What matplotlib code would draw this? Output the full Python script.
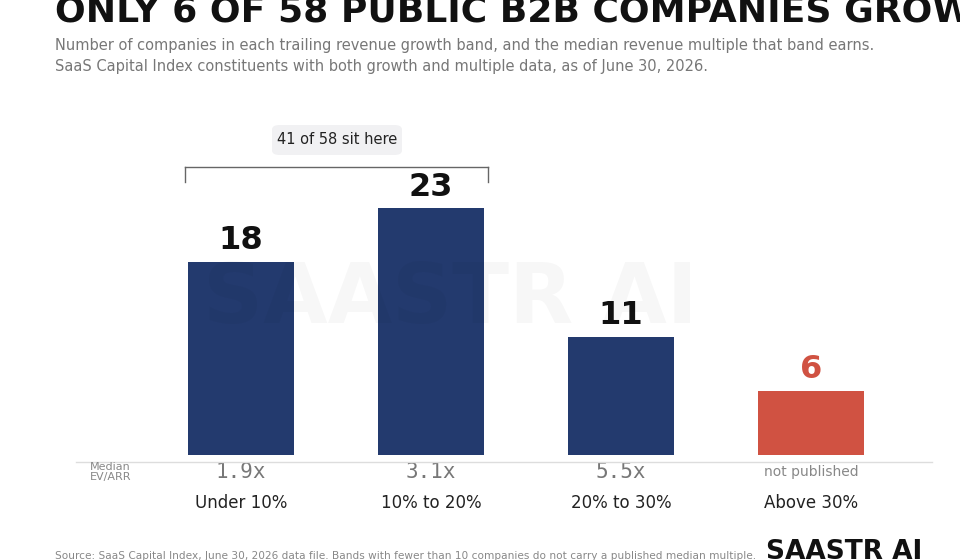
import matplotlib.pyplot as plt
from matplotlib.patches import FancyBboxPatch

bands = ["Under 10%", "10% to 20%", "20% to 30%", "Above 30%"]
counts = [18, 23, 11, 6]
multiples = ["1.9x", "3.1x", "5.5x", "not published"]
colors = ["#233a6e", "#233a6e", "#233a6e", "#d05242"]
label_colors = ["#111111", "#111111", "#111111", "#d05242"]

NARROW = ["Liberation Sans Narrow", "DejaVu Sans"]

W, H = 960, 560
fig = plt.figure(figsize=(9.6, 5.6), dpi=100)
ax = fig.add_axes([146 / W, 1 - 455 / H, 760 / W, 340 / H])
x = range(len(bands))
ax.bar(x, counts, width=0.56, color=colors, zorder=2)
ax.set_xlim(-0.5, 3.5)
ax.set_ylim(0, 340 / 10.74)
ax.axis("off")

for i, c in enumerate(counts):
    ax.text(i, c + 0.5, str(c), ha="center", va="bottom", fontsize=23, fontweight="bold",
            color=label_colors[i], family=NARROW)
    m = multiples[i]
    if m == "not published":
        ax.text(i, -1.6, m, ha="center", va="center", fontsize=10, color="#888888")
    else:
        ax.text(i, -1.6, m, ha="center", va="center", fontsize=15, color="#777777",
                family="DejaVu Sans Mono")
    ax.text(i, -4.5, bands[i], ha="center", va="center", fontsize=12, color="#222222")

# baseline under the bars
fig.add_artist(plt.Line2D([76 / W, 932 / W], [1 - 462 / H] * 2, color="#dddddd", lw=1))
fig.text(90 / W, 1 - 472 / H, "Median\nEV/ARR", fontsize=8, color="#888888", va="center",
         linespacing=1.1)

# bracket over first two bars
y0, y1 = 1 - 182 / H, 1 - 167 / H
for xs, ys in [([185, 185], [y0, y1]), ([185, 488], [y1, y1]), ([488, 488], [y1, y0])]:
    fig.add_artist(plt.Line2D([v / W for v in xs], ys, color="#666666", lw=1))
fig.add_artist(FancyBboxPatch((272 / W, 1 - 155 / H), 130 / W, 30 / H,
                              boxstyle="round,pad=0,rounding_size=0.008",
                              fc="#f1f1f3", ec="none", transform=fig.transFigure))
fig.text(337 / W, 1 - 139 / H, "41 of 58 sit here", ha="center", va="center",
         fontsize=10.5, color="#222222")

# watermark
fig.text(450 / W, 1 - 300 / H, "SAASTR AI", ha="center", va="center", fontsize=60,
         fontweight="bold", color="#000000", alpha=0.03, family=NARROW)

fig.text(55 / W, 1 - 12 / H, "ONLY 6 OF 58 PUBLIC B2B COMPANIES GROW FASTER THAN 30%",
         fontsize=26, fontweight="bold", color="#111111", va="center", family=NARROW)
fig.text(55 / W, 1 - 56 / H,
         "Number of companies in each trailing revenue growth band, and the median revenue multiple that band earns.\n"
         "SaaS Capital Index constituents with both growth and multiple data, as of June 30, 2026.",
         fontsize=10.5, color="#777777", va="center", linespacing=1.45)
fig.text(55 / W, 1 - 556 / H,
         "Source: SaaS Capital Index, June 30, 2026 data file. Bands with fewer than 10 companies do not carry a published median multiple.",
         fontsize=7.6, color="#888888", va="center")
fig.text(922 / W, 1 - 552 / H, "SAASTR AI", fontsize=19, fontweight="bold", color="#111111",
         ha="right", va="center", family=NARROW)

fig.savefig("out.png", dpi=100)
